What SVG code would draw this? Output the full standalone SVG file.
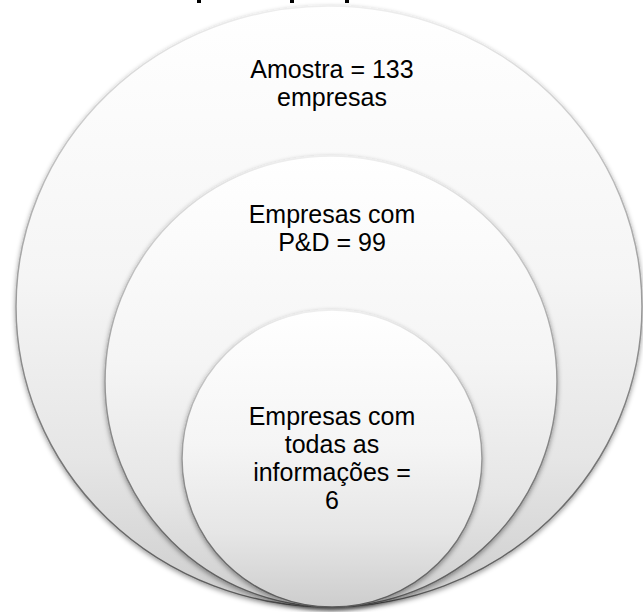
<svg xmlns="http://www.w3.org/2000/svg" width="643" height="612" viewBox="0 0 643 612">
  <style>
    .lbl { font-family: "Liberation Sans", Arial, sans-serif; font-size: 25px; fill: #000; text-anchor: middle; }
    .disc { fill: url(#fillGrad); stroke: url(#edgeGrad); stroke-width: 1.5; filter: url(#shadow); }
  </style>
  <defs>
    <linearGradient id="fillGrad" x1="0" y1="0" x2="0" y2="1">
      <stop offset="0" stop-color="#ffffff"/>
      <stop offset="0.45" stop-color="#f5f5f5"/>
      <stop offset="0.75" stop-color="#e6e6e6"/>
      <stop offset="1" stop-color="#cdcdcd"/>
    </linearGradient>
    <linearGradient id="edgeGrad" x1="0" y1="0" x2="0" y2="1">
      <stop offset="0" stop-color="#eeeeee"/>
      <stop offset="0.3" stop-color="#b8b8b8"/>
      <stop offset="0.6" stop-color="#8a8a8a"/>
      <stop offset="1" stop-color="#5a5a5a"/>
    </linearGradient>
    <filter id="shadow" x="-10%" y="-10%" width="120%" height="120%">
      <feDropShadow dx="0" dy="2" stdDeviation="2.5" flood-color="#000" flood-opacity="0.4"/>
    </filter>
  </defs>

  <g id="title-fragment" fill="#000">
    <rect x="197" y="0" width="4" height="3"/>
    <rect x="290" y="0" width="4" height="3"/>
    <rect x="345" y="0" width="4" height="3"/>
  </g>

  <g id="outer">
    <ellipse class="disc" cx="329" cy="306.5" rx="313" ry="300.5"/>
    <text class="lbl" x="332" y="78">Amostra = 133</text>
    <text class="lbl" x="332" y="106">empresas</text>
  </g>

  <g id="middle">
    <ellipse class="disc" cx="331" cy="381.5" rx="226" ry="225.5"/>
    <text class="lbl" x="332" y="223">Empresas com</text>
    <text class="lbl" x="332" y="251">P&amp;D = 99</text>
  </g>

  <g id="inner">
    <ellipse class="disc" cx="332" cy="458.5" rx="150" ry="148.5"/>
    <text class="lbl" x="332" y="425">Empresas com</text>
    <text class="lbl" x="332" y="453">todas as</text>
    <text class="lbl" x="332" y="481">informações =</text>
    <text class="lbl" x="332" y="509">6</text>
  </g>

  <g id="connectors"/>
</svg>
